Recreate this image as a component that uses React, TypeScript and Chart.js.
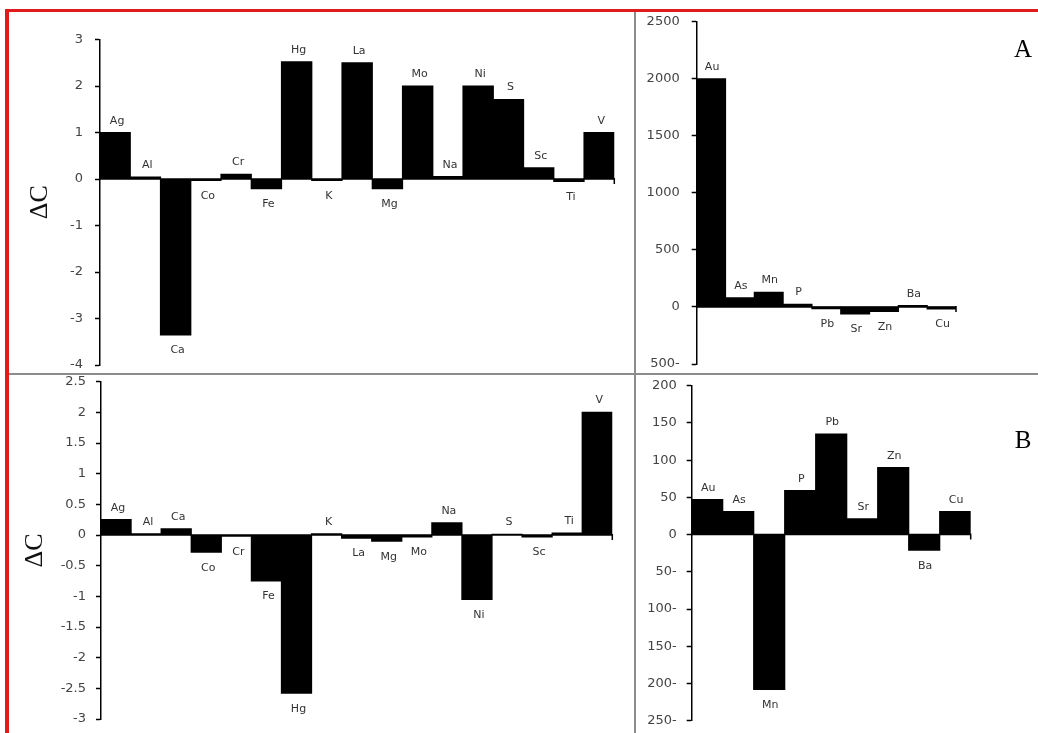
import React, { useEffect, useRef } from 'react';
import { Chart, registerables } from 'chart.js';

Chart.register(...registerables);

// Element lists on the category axes
const majorElements = ['Ag', 'Al', 'Ca', 'Co', 'Cr', 'Fe', 'Hg', 'K', 'La', 'Mg', 'Mo', 'Na', 'Ni', 'S', 'Sc', 'Ti', 'V'];
const traceElements = ['Au', 'As', 'Mn', 'P', 'Pb', 'Sr', 'Zn', 'Ba', 'Cu'];

// ΔC values, section A
const majorChangeA = [1.0, 0.04, -3.35, -0.03, 0.1, -0.21, 2.52, -0.03, 2.5, -0.21, 2.0, 0.05, 2.0, 1.71, 0.24, -0.05, 1.0];
const traceChangeA = [2000, 80, 128, 22, -15, -60, -40, 12, -18];

// ΔC values, section B
const majorChangeB = [0.25, 0.02, 0.1, -0.28, -0.02, -0.75, -2.58, 0.02, -0.05, -0.1, -0.03, 0.2, -1.05, 0.01, -0.03, 0.03, 2.0];
const traceChangeB = [47, 31, -208, 59, 135, 21, 90, -21, 31];

// Value axis ranges: [min, max, step]
const majorRangeA = [-4, 3, 1];
const traceRangeA = [-500, 2500, 500];
const majorRangeB = [-3, 2.5, 0.5];
const traceRangeB = [-250, 200, 50];

const axisTitle = 'ΔC';

type Box = { x: number; y: number; w: number; h: number };
type Area = { l: number; t: number; r: number; b: number };

type PanelProps = {
  labels: string[];
  values: number[];
  range: number[];
  box: Box;
  area: Area;
  tickPad: number;
  trailingMinus?: boolean;
  titleOffset?: number;
  labelShift: number;
};

// Zero line with its end tick, plus element names above / below each bar
const barDecor = {
  id: 'barDecor',
  afterDatasetsDraw(chart: any, _args: any, opts: any) {
    const { ctx, chartArea, scales } = chart;
    const y0 = scales.y.getPixelForValue(0);
    ctx.save();
    ctx.strokeStyle = '#000';
    ctx.lineWidth = 1.5;
    ctx.beginPath();
    ctx.moveTo(chartArea.left, y0);
    ctx.lineTo(chartArea.right, y0);
    ctx.moveTo(chartArea.right, y0 - 1);
    ctx.lineTo(chartArea.right, y0 + 5);
    ctx.stroke();

    const meta = chart.getDatasetMeta(0);
    const data = chart.data.datasets[0].data as number[];
    ctx.font = '11px "DejaVu Sans"';
    ctx.fillStyle = '#333';
    ctx.textAlign = 'center';
    meta.data.forEach((bar: any, i: number) => {
      const name = chart.data.labels[i] as string;
      const x = bar.x + (opts.shift || 0);
      if (data[i] >= 0) {
        ctx.textBaseline = 'alphabetic';
        ctx.fillText(name, x, bar.y - 9);
      } else {
        ctx.textBaseline = 'top';
        ctx.fillText(name, x, bar.y + 10);
      }
    });
    ctx.restore();
  },
};

function BarPanel(props: PanelProps) {
  const ref = useRef<HTMLCanvasElement>(null);
  const { labels, values, range, box, area, tickPad, trailingMinus, titleOffset, labelShift } = props;

  useEffect(() => {
    if (!ref.current) return;
    const axisWidth = area.l - box.x;
    const chart = new Chart(ref.current, {
      type: 'bar',
      data: {
        labels,
        datasets: [
          {
            data: values,
            backgroundColor: '#000',
            borderWidth: 0,
            barPercentage: 1,
            categoryPercentage: 1,
            inflateAmount: 0.6,
          },
        ],
      },
      options: {
        responsive: false,
        animation: false,
        events: [],
        layout: {
          padding: {
            left: 0,
            top: area.t - box.y,
            right: box.x + box.w - area.r,
            bottom: box.y + box.h - area.b,
          },
        },
        plugins: {
          legend: { display: false },
          tooltip: { enabled: false },
          barDecor: { shift: labelShift },
        } as any,
        scales: {
          x: { display: false },
          y: {
            min: range[0],
            max: range[1],
            afterFit: (s: any) => {
              s.width = axisWidth;
              s.paddingTop = 0;
              s.paddingBottom = 0;
            },
            ticks: {
              stepSize: range[2],
              padding: tickPad,
              color: '#444',
              font: { family: 'DejaVu Sans', size: 13 },
              callback: (v: any) => {
                const n = +Number(v).toFixed(2);
                if (trailingMinus && n < 0) return `${Math.abs(n)}-`;
                return `${n}`;
              },
            },
            grid: {
              drawOnChartArea: false,
              drawTicks: true,
              tickLength: 5,
              tickColor: '#000',
              tickWidth: 1.5,
            },
            border: { display: true, color: '#000', width: 1.5 },
            title: {
              display: titleOffset !== undefined,
              text: axisTitle,
              color: '#111',
              font: { family: 'Liberation Serif', size: 26 },
              padding: { top: titleOffset ?? 0, bottom: 0 },
            },
          },
        },
      },
      plugins: [barDecor],
    });
    return () => chart.destroy();
  }, []);

  return (
    <canvas
      ref={ref}
      width={box.w}
      height={box.h}
      style={{ position: 'absolute', left: box.x, top: box.y, width: box.w, height: box.h }}
    />
  );
}

const red = '#e11b1b';
const divider = '#8c8c8c';

export default function App() {
  return (
    <div style={{ position: 'absolute', left: 0, top: 0, width: 1038, height: 733, background: '#fff', overflow: 'hidden' }}>
      <div style={{ position: 'absolute', left: 5, top: 9, width: 1033, height: 3, background: red }} />
      <div style={{ position: 'absolute', left: 5, top: 9, width: 4, height: 724, background: red }} />
      <div style={{ position: 'absolute', left: 9, top: 373, width: 1029, height: 2, background: divider }} />
      <div style={{ position: 'absolute', left: 634, top: 12, width: 2, height: 721, background: divider }} />

      <BarPanel
        labels={majorElements}
        values={majorChangeA}
        range={majorRangeA}
        box={{ x: 10, y: 12, w: 620, h: 361 }}
        area={{ l: 100, t: 39.5, r: 614.3, b: 365 }}
        tickPad={12}
        titleOffset={14.4}
        labelShift={2}
      />
      <BarPanel
        labels={traceElements}
        values={traceChangeA}
        range={traceRangeA}
        box={{ x: 637, y: 12, w: 401, h: 361 }}
        area={{ l: 696.7, t: 21.7, r: 956, b: 364 }}
        tickPad={12}
        trailingMinus
        labelShift={1}
      />
      <BarPanel
        labels={majorElements}
        values={majorChangeB}
        range={majorRangeB}
        box={{ x: 10, y: 370, w: 620, h: 363 }}
        area={{ l: 101, t: 381.7, r: 612.3, b: 719 }}
        tickPad={10}
        titleOffset={9.4}
        labelShift={2}
      />
      <BarPanel
        labels={traceElements}
        values={traceChangeB}
        range={traceRangeB}
        box={{ x: 637, y: 370, w: 401, h: 363 }}
        area={{ l: 691.7, t: 385.7, r: 970.7, b: 720.7 }}
        tickPad={10}
        trailingMinus
        labelShift={1}
      />

      <div
        style={{
          position: 'absolute', left: 1008, top: 36, width: 30, textAlign: 'center',
          fontFamily: '"Liberation Serif", serif', fontSize: 25, lineHeight: '25px', color: '#000',
        }}
      >
        A
      </div>
      <div
        style={{
          position: 'absolute', left: 1008, top: 427, width: 30, textAlign: 'center',
          fontFamily: '"Liberation Serif", serif', fontSize: 25, lineHeight: '25px', color: '#000',
        }}
      >
        B
      </div>
    </div>
  );
}
